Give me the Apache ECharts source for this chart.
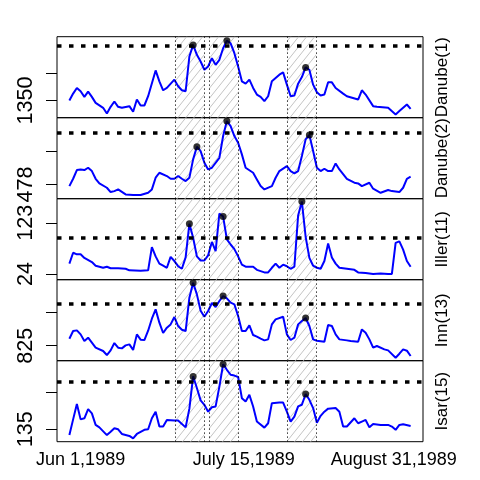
<!DOCTYPE html>
<html>
<head>
<meta charset="utf-8">
<script src="https://cdn.jsdelivr.net/npm/echarts@6/dist/echarts.min.js"></script>
<style>
  html, body { margin: 0; padding: 0; background: #fff; }
  #chart { width: 480px; height: 480px; }
</style>
</head>
<body>
<div id="chart"></div>
<script>
// ---------- data (day index 0 = Jun 1, 1989) ----------
const panelNames = ['Danube(1)', 'Danube(2)', 'Iller(11)', 'Inn(13)', 'Isar(15)'];

const danube1 = [[0,1350],[1,1691],[2,1968],[3,1805],[4,1529],[5,1789],[6,1529],[7,1236],[9,993],[10,716],[11,1041],[12,1301],[13,1041],[14,993],[16,1074],[17,798],[18,1399],[19,1106],[20,1106],[21,1561],[23,2829],[24,2293],[25,1854],[26,1968],[28,2374],[29,2049],[30,1854],[31,1805],[32,3511],[33,4080],[34,3593],[35,3268],[36,2861],[37,3024],[38,3430],[39,3105],[40,3349],[41,3918],[42,4291],[43,4161],[44,3674],[45,3024],[46,2293],[47,2179],[48,2374],[49,1968],[50,1643],[51,1529],[52,1318],[53,1561],[54,2293],[56,2618],[57,2731],[58,2130],[59,1561],[60,1594],[61,2179],[62,2504],[63,2975],[64,2861],[65,2130],[66,1756],[67,1594],[68,1643],[69,2244],[70,2244],[71,1968],[73,1691],[74,1561],[77,1399],[78,1854],[79,1643],[81,1074],[82,1041],[85,993],[87,668],[88,830],[90,1155],[91,944]];

const danube2 = [[0,454],[1,559],[2,684],[3,693],[4,684],[5,717],[6,669],[7,559],[8,492],[10,430],[11,368],[12,382],[13,406],[15,334],[17,325],[19,325],[21,358],[22,406],[23,574],[24,645],[26,598],[27,559],[28,559],[29,598],[30,559],[31,526],[32,574],[33,837],[34,1019],[35,956],[36,789],[37,693],[38,717],[40,860],[41,1172],[42,1387],[43,1315],[44,1172],[45,1076],[46,909],[47,717],[49,645],[50,550],[51,454],[52,406],[54,454],[55,574],[56,669],[58,741],[59,669],[60,636],[61,669],[62,885],[63,1124],[64,1186],[65,956],[66,717],[67,669],[68,703],[69,669],[70,669],[71,779],[72,693],[74,559],[76,502],[77,492],[78,454],[80,502],[81,416],[83,358],[85,397],[86,382],[88,368],[89,430],[90,559],[91,588]];

const iller = [[0,44],[1,65],[2,62],[3,62],[4,55],[6,47],[7,40],[9,36],[10,38],[11,35],[13,35],[15,34],[16,31],[19,30],[21,31],[22,76],[23,58],[24,44],[25,40],[26,36],[27,57],[28,49],[29,39],[30,34],[31,56],[32,121],[33,94],[34,58],[35,50],[36,50],[37,60],[38,86],[39,68],[40,141],[41,135],[42,91],[43,81],[44,72],[45,58],[46,42],[47,38],[49,38],[50,32],[52,27],[53,27],[54,36],[55,44],[56,36],[57,42],[58,39],[59,34],[60,38],[61,137],[62,164],[63,96],[64,55],[65,40],[66,36],[67,34],[68,49],[69,83],[70,56],[71,44],[72,36],[74,34],[76,32],[77,27],[79,26],[81,24],[83,25],[85,24],[86,24],[87,84],[88,87],[89,71],[90,49],[91,38]];

const inn = [[0,1000],[1,1192],[2,1208],[3,1108],[4,942],[5,1025],[6,900],[7,775],[9,692],[10,592],[11,708],[12,892],[13,775],[14,758],[15,833],[16,858],[17,720],[18,1108],[19,975],[20,967],[21,1200],[22,1500],[23,1733],[24,1400],[25,1142],[26,1275],[27,1358],[28,1542],[29,1317],[30,1225],[31,1192],[32,2025],[33,2400],[34,2108],[35,1700],[36,1550],[37,1692],[38,1892],[39,1792],[40,1942],[41,2067],[42,2008],[43,1900],[44,1858],[45,1567],[46,1192],[47,1192],[48,1333],[49,1092],[50,1050],[51,1000],[52,958],[53,983],[54,1358],[55,1483],[57,1550],[58,1108],[59,967],[60,1025],[61,1358],[62,1442],[63,1517],[64,1317],[65,983],[66,950],[68,925],[69,1342],[70,1317],[71,1108],[72,983],[74,958],[75,942],[77,925],[78,1233],[79,1150],[80,983],[81,775],[82,817],[84,733],[85,708],[87,525],[88,625],[89,733],[90,700],[91,567]];

const isar = [[0,114],[1,171],[2,227],[3,171],[4,175],[5,208],[6,193],[7,151],[8,142],[10,114],[11,126],[12,139],[13,135],[14,118],[16,111],[17,102],[18,118],[20,133],[21,135],[22,175],[23,199],[24,145],[25,145],[26,169],[28,167],[29,167],[31,142],[32,210],[33,327],[34,285],[35,240],[36,224],[37,199],[38,215],[39,218],[40,290],[41,371],[42,351],[43,333],[44,330],[45,325],[46,248],[47,236],[48,260],[49,218],[50,163],[52,141],[53,157],[54,230],[56,232],[57,232],[58,199],[59,163],[60,181],[61,218],[62,224],[63,263],[64,242],[65,212],[66,159],[67,184],[68,199],[69,210],[71,212],[72,199],[73,145],[74,145],[76,175],[77,157],[78,163],[79,169],[80,142],[81,154],[83,151],[85,151],[86,145],[87,133],[88,151],[89,153],[91,147]];

const danube1Peaks = [[33,4080],[42,4291],[63,2975]];
const danube2Peaks = [[34,1019],[42,1387],[64,1186]];
const illerPeaks   = [[32,121],[41,135],[62,164]];
const innPeaks     = [[33,2400],[41,2067],[63,1517]];
const isarPeaks    = [[33,327],[41,371],[63,263]];

const thresholds = [4031, 1219, 94, 1875, 306];

const yTicks      = [[1350, 2700], [478, 956], [24, 123], [825, 1650], [135, 270]];
const yTickLabels = [['1350', ''], ['478', ''], ['24', '123'], ['825', ''], ['135', '']];
const yRanges     = [[507, 4484], [273, 1435], [12.9, 169.6], [450, 2475], [90, 384]];

const floodPeriods = [[28.1, 36.0], [37.2, 45.1], [58.0, 65.8]];

const xTicks      = [3, 46.5, 86.5];
const xTickLabels = ['Jun 1,1989', 'July 15,1989', 'August 31,1989'];

// ---------- build ----------
const seriesData = [danube1, danube2, iller, inn, isar];
const peakData = [danube1Peaks, danube2Peaks, illerPeaks, innPeaks, isarPeaks];

function hatchPattern() {
  const c = document.createElement('canvas');
  const w = 8, h = 10;
  c.width = w; c.height = h;
  const g = c.getContext('2d');
  g.strokeStyle = '#bdbdbd';
  g.lineWidth = 0.9;
  g.beginPath();
  g.moveTo(-0.8, h + 1); g.lineTo(w + 0.8, -1);
  g.moveTo(-0.8, 1); g.lineTo(0.8, -1);
  g.moveTo(w - 0.8, h + 1); g.lineTo(w + 0.8, h - 1);
  g.stroke();
  return { image: c, repeat: 'repeat' };
}
const hatch = hatchPattern();

const FONT = 'Liberation Sans, Arial, Helvetica, sans-serif';
const PANEL_TOP = 36.7, PANEL_H = 81;

const grids = [], xAxes = [], yAxes = [], series = [], graphics = [];
for (let i = 0; i < 5; i++) {
  const top = PANEL_TOP + i * PANEL_H;
  grids.push({ left: 57, right: 57, top: top, height: PANEL_H, show: true,
    borderColor: '#000', borderWidth: 1, backgroundColor: 'transparent', containLabel: false });
  const last = i === 4;
  xAxes.push({ type: 'value', gridIndex: i, min: -3.3, max: 94.3,
    axisLine: { show: false, onZero: false }, axisTick: { show: false }, splitLine: { show: false },
    axisLabel: { show: last, customValues: xTicks, margin: 9, fontSize: 18, color: '#000', fontFamily: FONT,
      formatter: (v) => { const k = xTicks.indexOf(v); return k >= 0 ? xTickLabels[k] : ''; } } });
  const ticks = yTicks[i], labs = yTickLabels[i];
  yAxes.push({ type: 'value', gridIndex: i, min: yRanges[i][0], max: yRanges[i][1],
    axisLine: { show: false, onZero: false }, splitLine: { show: false },
    axisTick: { show: true, inside: false, length: 11, customValues: ticks, lineStyle: { color: '#000', width: 1 } },
    axisLabel: { show: true, customValues: ticks, rotate: 90, margin: 20, fontSize: 21.6, color: '#000', fontFamily: FONT,
      formatter: (v) => { const k = ticks.indexOf(v); return k >= 0 ? labs[k] : ''; } } });

  const lines = floodPeriods.flatMap(p => [p[0], p[1]]).map(x => ({ xAxis: x,
    lineStyle: { color: '#000', width: 1, type: [1.2, 2.8] } }));
  lines.push({ yAxis: thresholds[i], lineStyle: { color: '#000', width: 3.5, type: [4.5, 7.5] } });

  series.push({ type: 'line', xAxisIndex: i, yAxisIndex: i, data: seriesData[i], showSymbol: false,
    lineStyle: { color: '#0000ff', width: 2 }, itemStyle: { color: '#0000ff' }, z: 3, silent: true,
    markArea: { silent: true, itemStyle: { color: hatch, borderWidth: 0 },
      data: floodPeriods.map(p => [{ xAxis: p[0] }, { xAxis: p[1] }]) },
    markLine: { silent: true, symbol: ['none', 'none'], label: { show: false }, data: lines } });
  series.push({ type: 'scatter', xAxisIndex: i, yAxisIndex: i, data: peakData[i], symbol: 'circle',
    symbolSize: 7, itemStyle: { color: '#000' }, z: 5, silent: true });

  graphics.push({ type: 'text', x: 442, y: top + PANEL_H / 2, rotation: Math.PI / 2,
    style: { text: panelNames[i], fontSize: 17, fontFamily: FONT, fill: '#000',
      textAlign: 'center', textVerticalAlign: 'middle' } });
}

const chart = echarts.init(document.getElementById('chart'), null, { renderer: 'canvas' });
chart.setOption({
  animation: false,
  backgroundColor: '#fff',
  grid: grids, xAxis: xAxes, yAxis: yAxes, series: series, graphic: graphics
});
</script>
</body>
</html>
